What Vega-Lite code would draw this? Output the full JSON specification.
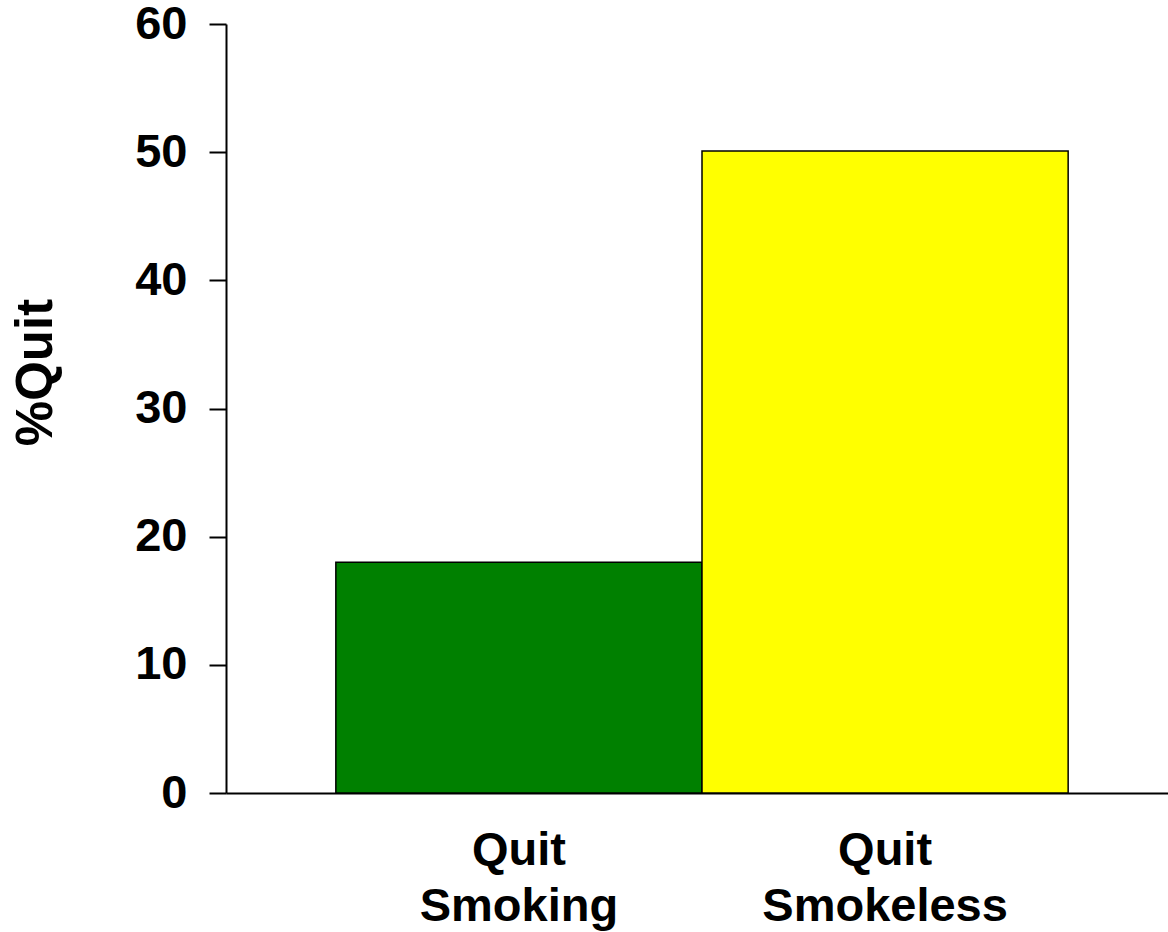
{
  "$schema": "https://vega.github.io/schema/vega-lite/v6.json",
  "autosize": "none",
  "padding": {"left": 226, "top": 24, "right": 0, "bottom": 139},
  "width": 952,
  "height": 769,
  "background": "white",
  "data": {"values": [
    {"category": "Quit Smoking", "pct": 18},
    {"category": "Quit Smokeless", "pct": 50.1}
  ]},
  "mark": {"type": "bar", "stroke": "black", "strokeWidth": 1.5},
  "encoding": {
    "x": {
      "field": "category", "type": "nominal", "sort": null,
      "scale": {"paddingInner": 0, "paddingOuter": 0.3},
      "axis": {
        "title": null, "labelAngle": 0, "ticks": false, "labelLimit": 0,
        "labelExpr": "split(datum.label, ' ')",
        "labelFont": "Liberation Sans", "labelFontWeight": "bold", "labelFontSize": 47,
        "labelColor": "black", "labelLineHeight": 56, "labelPadding": 34,
        "domainColor": "black", "domainWidth": 2
      }
    },
    "y": {
      "field": "pct", "type": "quantitative",
      "scale": {"domain": [0, 60]},
      "axis": {
        "title": "%Quit", "values": [0, 10, 20, 30, 40, 50, 60], "grid": false,
        "labelFont": "Liberation Sans", "labelFontWeight": "bold", "labelFontSize": 47,
        "labelColor": "black", "labelPadding": 22,
        "tickSize": 17, "tickColor": "black", "tickWidth": 2,
        "domainColor": "black", "domainWidth": 2,
        "titleFont": "Liberation Sans", "titleFontWeight": "bold", "titleFontSize": 51,
        "titleColor": "black", "titleX": -190, "titleY": 348, "titleBaseline": "middle", "titleAngle": -90
      }
    },
    "color": {
      "field": "category", "type": "nominal", "legend": null,
      "scale": {"domain": ["Quit Smoking", "Quit Smokeless"], "range": ["#008000", "#FFFF00"]}
    }
  },
  "config": {"view": {"stroke": null}}
}
